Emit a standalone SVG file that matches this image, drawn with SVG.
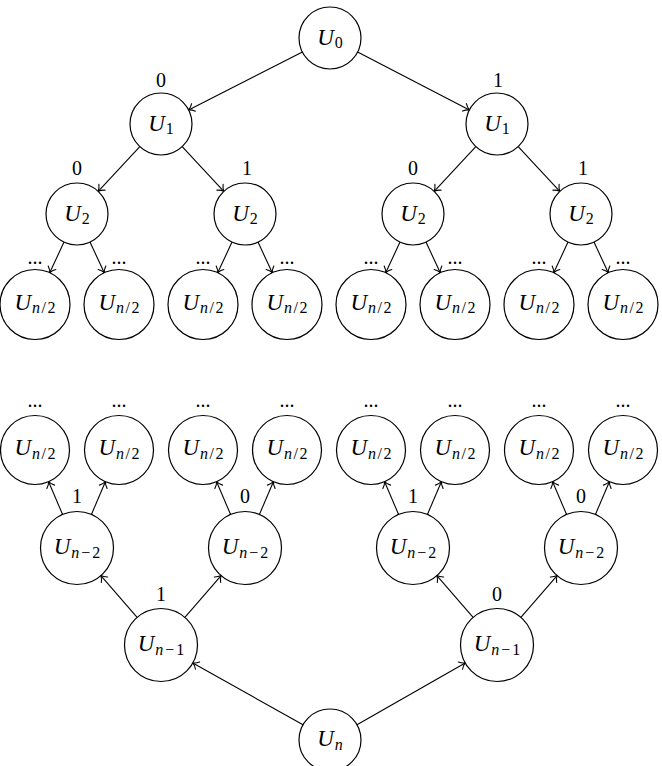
<svg xmlns="http://www.w3.org/2000/svg" width="662" height="766" viewBox="0 0 662 766">
<defs>
<style>
.n circle{fill:#fff;stroke:#000;stroke-width:1.2}
.m{font-family:'Liberation Serif','DejaVu Serif',serif;font-size:23px;font-style:italic;text-anchor:middle;fill:#000}
.s{font-size:16px}
.u{font-style:normal}
.lb{font-family:'Liberation Serif','DejaVu Serif',serif;font-size:20px;text-anchor:middle;fill:#000}
#edges line{stroke:#000;stroke-width:1.1;marker-end:url(#to)}
</style>
<marker id="to" markerUnits="userSpaceOnUse" markerWidth="14" markerHeight="14" refX="0" refY="0" viewBox="-8 -7 10 14" orient="auto">
<path d="M -5.5 -4.2 C -3.5 -1.8 -1 -0.4 0 0 C -1 0.4 -3.5 1.8 -5.5 4.2" fill="none" stroke="#000" stroke-width="1.1" stroke-linecap="round"/>
</marker>
</defs>
<rect width="662" height="766" fill="#fff"/>
<g id="edges">
<line x1="302.4" y1="52.1" x2="188.6" y2="109.9"/>
<line x1="357.6" y1="52.1" x2="469.4" y2="109.9"/>
<line x1="139.8" y1="146.7" x2="98.2" y2="191.3"/>
<line x1="182.2" y1="146.7" x2="223.8" y2="191.3"/>
<line x1="475.8" y1="146.7" x2="434.2" y2="191.3"/>
<line x1="518.2" y1="146.7" x2="559.8" y2="191.3"/>
<line x1="64" y1="242.1" x2="49.7" y2="272.8"/>
<line x1="90" y1="242.1" x2="104.3" y2="272.8"/>
<line x1="232" y1="242.1" x2="217.7" y2="272.8"/>
<line x1="258" y1="242.1" x2="272.3" y2="272.8"/>
<line x1="400" y1="242.1" x2="385.7" y2="272.8"/>
<line x1="426" y1="242.1" x2="440.3" y2="272.8"/>
<line x1="568" y1="242.1" x2="553.7" y2="272.8"/>
<line x1="594" y1="242.1" x2="608.3" y2="272.8"/>
<line x1="303" y1="724.8" x2="192.8" y2="662.9"/>
<line x1="357" y1="724.8" x2="465.2" y2="662.9"/>
<line x1="137.1" y1="617.4" x2="100.9" y2="575.6"/>
<line x1="184.9" y1="617.4" x2="221.1" y2="575.6"/>
<line x1="473.1" y1="617.4" x2="436.9" y2="575.6"/>
<line x1="520.9" y1="617.4" x2="557.1" y2="575.6"/>
<line x1="62.6" y1="514.5" x2="48.6" y2="481.7"/>
<line x1="91.4" y1="514.5" x2="105.4" y2="481.7"/>
<line x1="230.6" y1="514.5" x2="216.6" y2="481.7"/>
<line x1="259.4" y1="514.5" x2="273.4" y2="481.7"/>
<line x1="398.6" y1="514.5" x2="384.6" y2="481.7"/>
<line x1="427.4" y1="514.5" x2="441.4" y2="481.7"/>
<line x1="566.6" y1="514.5" x2="552.6" y2="481.7"/>
<line x1="595.4" y1="514.5" x2="609.4" y2="481.7"/>
</g>
<g class="lb">
<text x="161" y="87">0</text>
<text x="498" y="87">1</text>
<text x="77" y="175">0</text>
<text x="247" y="175">1</text>
<text x="413" y="175">0</text>
<text x="583" y="175">1</text>
<text x="77" y="503">1</text>
<text x="245" y="503">0</text>
<text x="413" y="503">1</text>
<text x="581" y="503">0</text>
<text x="161" y="601">1</text>
<text x="497" y="601">0</text>
<text x="35" y="264">...</text><text x="119" y="264">...</text>
<text x="203" y="264">...</text><text x="287" y="264">...</text>
<text x="371" y="264">...</text><text x="455" y="264">...</text>
<text x="539" y="264">...</text><text x="623" y="264">...</text>
<text x="35" y="407">...</text><text x="119" y="407">...</text>
<text x="203" y="407">...</text><text x="287" y="407">...</text>
<text x="371" y="407">...</text><text x="455" y="407">...</text>
<text x="539" y="407">...</text><text x="623" y="407">...</text>
</g>
<g id="U0" class="n"><circle cx="330" cy="38" r="31"/><text class="m" x="330" y="44.5">U<tspan class="s u" dx="1" dy="3">0</tspan></text></g>
<g id="U1a" class="n"><circle cx="161" cy="124" r="31"/><text class="m" x="161" y="130.5">U<tspan class="s u" dx="1" dy="3">1</tspan></text></g>
<g id="U1b" class="n"><circle cx="497" cy="124" r="31"/><text class="m" x="497" y="130.5">U<tspan class="s u" dx="1" dy="3">1</tspan></text></g>
<g id="U2a" class="n"><circle cx="77" cy="214" r="31"/><text class="m" x="77" y="220.5">U<tspan class="s u" dx="1" dy="3">2</tspan></text></g>
<g id="U2b" class="n"><circle cx="245" cy="214" r="31"/><text class="m" x="245" y="220.5">U<tspan class="s u" dx="1" dy="3">2</tspan></text></g>
<g id="U2c" class="n"><circle cx="413" cy="214" r="31"/><text class="m" x="413" y="220.5">U<tspan class="s u" dx="1" dy="3">2</tspan></text></g>
<g id="U2d" class="n"><circle cx="581" cy="214" r="31"/><text class="m" x="581" y="220.5">U<tspan class="s u" dx="1" dy="3">2</tspan></text></g>
<g id="T1" class="n"><circle cx="35" cy="304.5" r="35"/><text class="m" x="35" y="309.5">U<tspan class="s" dx="1" dy="3.5">n</tspan><tspan class="s u" dx="1.5">/</tspan><tspan class="s u" dx="1.5">2</tspan></text></g>
<g id="T2" class="n"><circle cx="119" cy="304.5" r="35"/><text class="m" x="119" y="309.5">U<tspan class="s" dx="1" dy="3.5">n</tspan><tspan class="s u" dx="1.5">/</tspan><tspan class="s u" dx="1.5">2</tspan></text></g>
<g id="T3" class="n"><circle cx="203" cy="304.5" r="35"/><text class="m" x="203" y="309.5">U<tspan class="s" dx="1" dy="3.5">n</tspan><tspan class="s u" dx="1.5">/</tspan><tspan class="s u" dx="1.5">2</tspan></text></g>
<g id="T4" class="n"><circle cx="287" cy="304.5" r="35"/><text class="m" x="287" y="309.5">U<tspan class="s" dx="1" dy="3.5">n</tspan><tspan class="s u" dx="1.5">/</tspan><tspan class="s u" dx="1.5">2</tspan></text></g>
<g id="T5" class="n"><circle cx="371" cy="304.5" r="35"/><text class="m" x="371" y="309.5">U<tspan class="s" dx="1" dy="3.5">n</tspan><tspan class="s u" dx="1.5">/</tspan><tspan class="s u" dx="1.5">2</tspan></text></g>
<g id="T6" class="n"><circle cx="455" cy="304.5" r="35"/><text class="m" x="455" y="309.5">U<tspan class="s" dx="1" dy="3.5">n</tspan><tspan class="s u" dx="1.5">/</tspan><tspan class="s u" dx="1.5">2</tspan></text></g>
<g id="T7" class="n"><circle cx="539" cy="304.5" r="35"/><text class="m" x="539" y="309.5">U<tspan class="s" dx="1" dy="3.5">n</tspan><tspan class="s u" dx="1.5">/</tspan><tspan class="s u" dx="1.5">2</tspan></text></g>
<g id="T8" class="n"><circle cx="623" cy="304.5" r="35"/><text class="m" x="623" y="309.5">U<tspan class="s" dx="1" dy="3.5">n</tspan><tspan class="s u" dx="1.5">/</tspan><tspan class="s u" dx="1.5">2</tspan></text></g>
<g id="B1" class="n"><circle cx="35" cy="450" r="34.5"/><text class="m" x="35" y="455">U<tspan class="s" dx="1" dy="3.5">n</tspan><tspan class="s u" dx="1.5">/</tspan><tspan class="s u" dx="1.5">2</tspan></text></g>
<g id="B2" class="n"><circle cx="119" cy="450" r="34.5"/><text class="m" x="119" y="455">U<tspan class="s" dx="1" dy="3.5">n</tspan><tspan class="s u" dx="1.5">/</tspan><tspan class="s u" dx="1.5">2</tspan></text></g>
<g id="B3" class="n"><circle cx="203" cy="450" r="34.5"/><text class="m" x="203" y="455">U<tspan class="s" dx="1" dy="3.5">n</tspan><tspan class="s u" dx="1.5">/</tspan><tspan class="s u" dx="1.5">2</tspan></text></g>
<g id="B4" class="n"><circle cx="287" cy="450" r="34.5"/><text class="m" x="287" y="455">U<tspan class="s" dx="1" dy="3.5">n</tspan><tspan class="s u" dx="1.5">/</tspan><tspan class="s u" dx="1.5">2</tspan></text></g>
<g id="B5" class="n"><circle cx="371" cy="450" r="34.5"/><text class="m" x="371" y="455">U<tspan class="s" dx="1" dy="3.5">n</tspan><tspan class="s u" dx="1.5">/</tspan><tspan class="s u" dx="1.5">2</tspan></text></g>
<g id="B6" class="n"><circle cx="455" cy="450" r="34.5"/><text class="m" x="455" y="455">U<tspan class="s" dx="1" dy="3.5">n</tspan><tspan class="s u" dx="1.5">/</tspan><tspan class="s u" dx="1.5">2</tspan></text></g>
<g id="B7" class="n"><circle cx="539" cy="450" r="34.5"/><text class="m" x="539" y="455">U<tspan class="s" dx="1" dy="3.5">n</tspan><tspan class="s u" dx="1.5">/</tspan><tspan class="s u" dx="1.5">2</tspan></text></g>
<g id="B8" class="n"><circle cx="623" cy="450" r="34.5"/><text class="m" x="623" y="455">U<tspan class="s" dx="1" dy="3.5">n</tspan><tspan class="s u" dx="1.5">/</tspan><tspan class="s u" dx="1.5">2</tspan></text></g>
<g id="N2a" class="n"><circle cx="77" cy="548" r="36.5"/><text class="m" x="77" y="554">U<tspan class="s" dx="1" dy="3.5">n</tspan><tspan class="s u" dx="2">−</tspan><tspan class="s u" dx="2">2</tspan></text></g>
<g id="N2b" class="n"><circle cx="245" cy="548" r="36.5"/><text class="m" x="245" y="554">U<tspan class="s" dx="1" dy="3.5">n</tspan><tspan class="s u" dx="2">−</tspan><tspan class="s u" dx="2">2</tspan></text></g>
<g id="N2c" class="n"><circle cx="413" cy="548" r="36.5"/><text class="m" x="413" y="554">U<tspan class="s" dx="1" dy="3.5">n</tspan><tspan class="s u" dx="2">−</tspan><tspan class="s u" dx="2">2</tspan></text></g>
<g id="N2d" class="n"><circle cx="581" cy="548" r="36.5"/><text class="m" x="581" y="554">U<tspan class="s" dx="1" dy="3.5">n</tspan><tspan class="s u" dx="2">−</tspan><tspan class="s u" dx="2">2</tspan></text></g>
<g id="N1a" class="n"><circle cx="161" cy="645" r="36.5"/><text class="m" x="161" y="651">U<tspan class="s" dx="1" dy="3.5">n</tspan><tspan class="s u" dx="2">−</tspan><tspan class="s u" dx="2">1</tspan></text></g>
<g id="N1b" class="n"><circle cx="497" cy="645" r="36.5"/><text class="m" x="497" y="651">U<tspan class="s" dx="1" dy="3.5">n</tspan><tspan class="s u" dx="2">−</tspan><tspan class="s u" dx="2">1</tspan></text></g>
<g id="Un" class="n"><circle cx="330" cy="740" r="31"/><text class="m" x="330" y="746">U<tspan class="s" dx="1" dy="3.5">n</tspan></text></g>
</svg>
